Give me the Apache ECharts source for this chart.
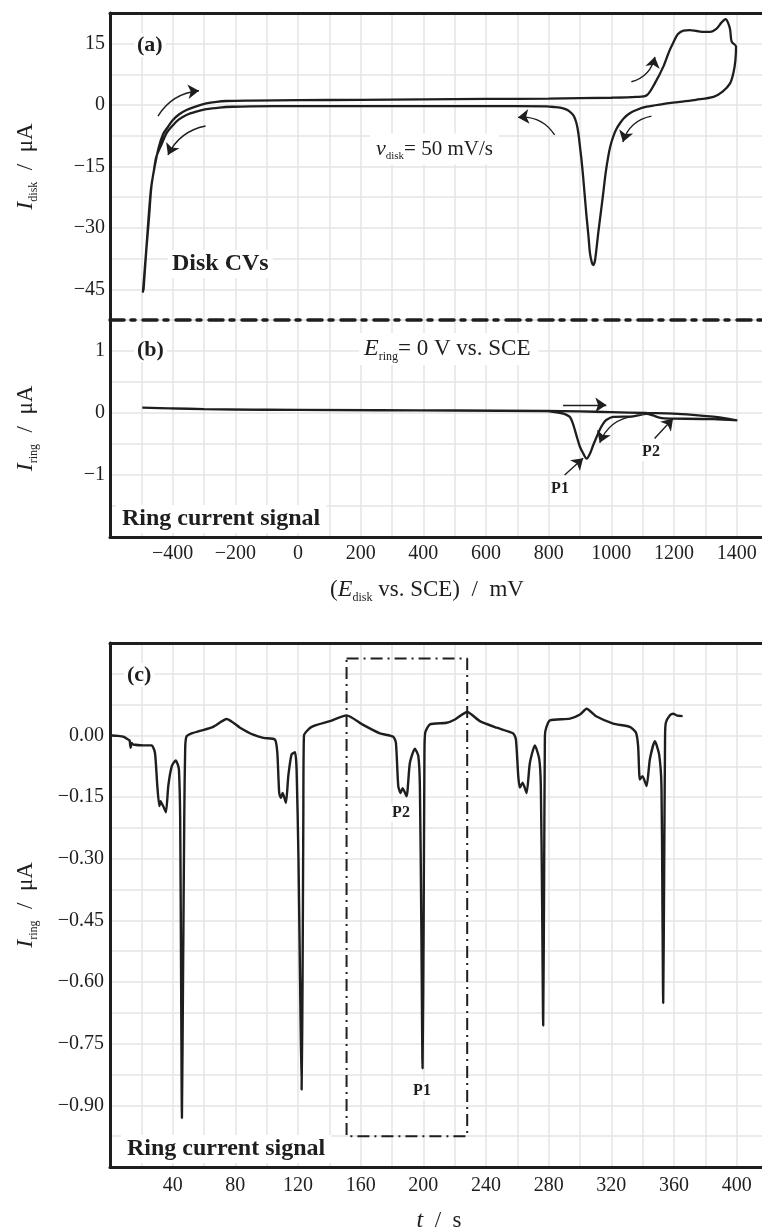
<!DOCTYPE html>
<html>
<head>
<meta charset="utf-8">
<script src="https://cdn.jsdelivr.net/npm/echarts@6/dist/echarts.min.js"></script>
<style>
html,body{margin:0;padding:0;background:#fff;}
#chart{width:762px;height:1232px;}
</style>
</head>
<body>
<div id="chart"></div>
<script>
// ---------- Panel (a): disk cyclic voltammogram ----------
const cvPotential = [-495,-484,-470,-461,-445,-430,-415,-400,-380,-356,-325,-293,-260,-229,-150,0,200,400,600,800,1000,1080,1113,1140,1166,1185,1198,1212,1230,1250,1272,1295,1315,1336,1352,1365,1372,1379,1384,1398,
  1396,1390,1379,1355,1326,1270,1219,1160,1113,1080,1059,1040,1027,1015,1006,997,990,982,974,966,958,952,948,945,942,938,932,927,921,915,910,905,900,895,889,881,873,860,846,820,793,600,400,200,0,-150,-208,-250,-293,-325,-356,-380,-399,-420,-435,-452,-460,-468,-476,-484,-493];
const cvCurrent = [-45.8,-35.0,-21.0,-16.5,-10.5,-7.0,-5.3,-3.7,-2.3,-1.2,-0.3,0.4,0.8,1.0,1.1,1.2,1.3,1.4,1.5,1.6,1.8,2.0,2.4,5.5,9.4,13.2,15.3,17.3,18.2,18.3,18.1,17.9,17.9,18.7,20.2,21.0,20.2,18.5,15.5,14.3,
  11.0,8.0,5.3,3.3,2.0,1.3,0.8,0.2,-0.4,-1.2,-2.0,-3.2,-4.5,-6.0,-7.7,-10.0,-12.6,-16.5,-21.6,-26.5,-31.4,-35.5,-37.9,-38.8,-39.1,-38.5,-36.3,-32.0,-27.3,-22.0,-17.5,-13.5,-10.2,-7.0,-4.5,-2.8,-2.0,-1.2,-0.8,-0.5,-0.3,-0.25,-0.25,-0.25,-0.25,-0.3,-0.4,-0.6,-1.0,-1.6,-2.4,-3.5,-4.9,-6.9,-9.5,-12.6,-16.0,-20.0,-28.0,-35.4,-45.2];

// ---------- Panel (b): ring current vs disk potential ----------
const ringPotential = [-497,-400,-300,-208,0,261,500,793,900,1000,1113,1198,1260,1325,1370,1402,
  1325,1198,1170,1150,1130,1113,1070,1006,985,974,963,953,942,932,921,910,900,892,884,876,868,857,846,814,793,500,0,-300,-497];
const ringCurrent = [0.087,0.075,0.063,0.055,0.05,0.044,0.04,0.032,0.025,0.015,0.0,-0.01,-0.03,-0.06,-0.09,-0.118,
  -0.1,-0.09,-0.088,-0.07,-0.035,-0.015,-0.053,-0.064,-0.11,-0.171,-0.27,-0.387,-0.52,-0.655,-0.736,-0.65,-0.548,-0.42,-0.279,-0.15,-0.064,-0.03,-0.01,0.02,0.03,0.04,0.05,0.063,0.087];

// ---------- Panel (c): ring current vs time ----------
const timeS = [1.1,5,8.5,11.7,12.5,13.2,13.8,14.9,21.3,26.6,28.7,30.2,31.5,32.3,33,34,35.7,37.2,39.4,41.9,43.2,44,44.8,45.4,45.9,46.6,47.4,48.0,48.9,52.1,57.4,65.9,74.5,83,91.4,97.9,105.3,106.8,108,109.1,110.2,112.3,113.8,115.9,118.1,119.1,120.3,121.5,122.3,122.9,123.4,123.8,128.7,140.4,151,161,172.3,180.8,182.5,184,185.5,186.8,189.3,191.4,194.6,196.8,197.8,198.7,199.5,200.2,200.7,201.2,204.2,214.9,220.2,228,236.1,246.8,257.4,259.1,260.6,261.6,263.4,265.9,268,271.2,274,275,275.8,276.5,277.1,277.6,278.5,280.8,293.6,300,304.2,310.6,321.2,331.8,335.7,337.1,338.2,339.9,342.5,344.6,347.8,350.5,352,352.6,353.1,353.7,354.3,354.8,357.4,359.5,361.6,365.5];
const ringSignal = [0.0,-0.001,-0.003,-0.01,-0.012,-0.03,-0.018,-0.022,-0.024,-0.024,-0.042,-0.123,-0.172,-0.16,-0.165,-0.172,-0.187,-0.123,-0.075,-0.061,-0.07,-0.083,-0.2,-0.6,-0.931,-0.6,-0.2,-0.03,-0.002,0.005,0.011,0.021,0.04,0.019,0.002,-0.006,-0.01,-0.042,-0.14,-0.152,-0.14,-0.164,-0.099,-0.046,-0.041,-0.083,-0.3,-0.65,-0.862,-0.6,-0.2,0.0,0.021,0.035,0.049,0.027,0.005,-0.003,-0.018,-0.123,-0.14,-0.128,-0.148,-0.067,-0.032,-0.05,-0.123,-0.45,-0.81,-0.45,-0.05,0.007,0.027,0.031,0.039,0.057,0.035,0.019,0.005,-0.01,-0.099,-0.127,-0.115,-0.14,-0.067,-0.024,-0.058,-0.123,-0.4,-0.706,-0.35,0.0,0.02,0.037,0.041,0.051,0.065,0.046,0.029,0.021,0.007,-0.026,-0.107,-0.099,-0.123,-0.058,-0.014,-0.046,-0.123,-0.4,-0.651,-0.35,0.0,0.031,0.049,0.053,0.049,0.047];

// dash-dot highlight box in panel (c)
const boxT = [151,228,228,151,151];
const boxI = [0.187,0.187,-0.975,-0.975,0.187];

// annotation arrows [x1,y1,x2,y2,curveness]
const arrowsA = [[-447,-2.7,-316,3.5,0.25],[-295,-5.1,-415,-12.2,-0.25],[819,-7.3,702,-3.0,-0.3],[1128,-2.7,1037,-9.0,-0.3],[1064,5.7,1139,11.8,-0.3]];
const arrowsB = [[846,0.13,984,0.13,0],[1075,-0.05,963,-0.48,-0.3],[851,-1.0,910,-0.73,0],[1138,-0.41,1197,-0.09,0]];

// tick labels
const potentialTicks = [-400,-200,0,200,400,600,800,1000,1200,1400];
const diskTicks = [-45,-30,-15,0,15];
const ringTicks = [-1,0,1];
const timeTicks = [40,80,120,160,200,240,280,320,360,400];
const signalTicks = [-0.90,-0.75,-0.60,-0.45,-0.30,-0.15,0.00];

const FONT = '"Liberation Serif", "Times New Roman", serif';
const INK = '#1e1e1e';
const GRIDC = '#e4e4e4';
const minus = s => String(s).replace('-', '\u2212');
function fmtFrom(list, dec) {
  return function (v) {
    for (const t of list) {
      if (Math.abs(v - t) < 1e-6) return minus(dec ? t.toFixed(dec) : String(t));
    }
    return '';
  };
}
const labelStyle = (fmt, margin) => ({ show: true, formatter: fmt, fontFamily: FONT, fontSize: 20, color: INK, margin: margin });
const split = { show: true, lineStyle: { color: GRIDC, width: 1.5 } };
const solidLine = { show: true, onZero: false, lineStyle: { color: INK, width: 3 } };
function richSet(size, subSize) {
  const lh = Math.round(size * 1.2);
  return {
    i: { fontFamily: FONT, fontStyle: 'italic', fontSize: size + 1, color: INK, lineHeight: lh },
    s: { fontFamily: FONT, fontSize: subSize, color: INK, lineHeight: Math.round(subSize * 1.05), verticalAlign: 'bottom' },
    t: { fontFamily: FONT, fontSize: size, color: INK, lineHeight: lh }
  };
}
const nameRich = richSet(23, 12);
const nameStyle = { fontFamily: FONT, fontSize: 23, color: INK, rich: nameRich };

const pairs = (xs, ys) => xs.map((x, i) => [x, ys[i]]);
const arrowData = arr => arr.map(a => ({ coords: [[a[0], a[1]], [a[2], a[3]]], lineStyle: { curveness: a[4] } }));

const chart = echarts.init(document.getElementById('chart'), null, { renderer: 'canvas' });
const option = {
  backgroundColor: '#fff',
  animation: false,
  grid: [
    { left: 110, right: -6, top: 13, height: 307, outerBoundsMode: 'none' },
    { left: 110, right: -6, top: 320, height: 217, outerBoundsMode: 'none' },
    { left: 110, right: -6, top: 643, height: 524, outerBoundsMode: 'none' }
  ],
  xAxis: [
    { gridIndex: 0, type: 'value', min: -600, max: 1500, interval: 100, position: 'bottom',
      axisLine: { show: true, onZero: false, lineStyle: { color: INK, width: 3.5, type: [14, 7, 4, 8] } },
      axisTick: { show: false }, axisLabel: { show: false }, splitLine: split },
    { gridIndex: 0, type: 'value', min: -600, max: 1500, interval: 100, position: 'top',
      axisLine: solidLine, axisTick: { show: false }, axisLabel: { show: false }, splitLine: { show: false } },
    { gridIndex: 1, type: 'value', min: -600, max: 1500, interval: 100, position: 'bottom',
      axisLine: solidLine, axisTick: { show: false }, axisLabel: labelStyle(fmtFrom(potentialTicks), 7), splitLine: split,
      name: '{t|(}{i|E}{s|disk}{t| vs. SCE)  /  mV}', nameLocation: 'middle', nameGap: 39,
      nameTextStyle: Object.assign({}, nameStyle, { padding: [0, 24, 0, 0] }) },
    { gridIndex: 2, type: 'value', min: 0, max: 420, interval: 20, position: 'bottom',
      axisLine: solidLine, axisTick: { show: false }, axisLabel: labelStyle(fmtFrom(timeTicks), 9), splitLine: split,
      name: '{i|t}{t|  /  s}', nameLocation: 'middle', nameGap: 40, nameTextStyle: nameStyle },
    { gridIndex: 2, type: 'value', min: 0, max: 420, interval: 20, position: 'top',
      axisLine: solidLine, axisTick: { show: false }, axisLabel: { show: false }, splitLine: { show: false } }
  ],
  yAxis: [
    { gridIndex: 0, type: 'value', min: -52.5, max: 22.5, interval: 7.5,
      axisLine: solidLine, axisTick: { show: false }, axisLabel: labelStyle(fmtFrom(diskTicks), 5), splitLine: split,
      name: '{i|I}{s|disk}{t|  /  μA}', nameLocation: 'middle', nameGap: 70, nameTextStyle: nameStyle },
    { gridIndex: 1, type: 'value', min: -2, max: 1.5, interval: 0.5,
      axisLine: solidLine, axisTick: { show: false }, axisLabel: labelStyle(fmtFrom(ringTicks), 5), splitLine: split,
      name: '{i|I}{s|ring}{t|  /  μA}', nameLocation: 'middle', nameGap: 70, nameTextStyle: nameStyle },
    { gridIndex: 2, type: 'value', min: -1.05, max: 0.225, interval: 0.075,
      axisLine: solidLine, axisTick: { show: false }, axisLabel: labelStyle(fmtFrom(signalTicks, 2), 6), splitLine: split,
      name: '{i|I}{s|ring}{t|  /  μA}', nameLocation: 'middle', nameGap: 70, nameTextStyle: nameStyle }
  ],
  series: [
    { type: 'line', xAxisIndex: 0, yAxisIndex: 0, data: pairs(cvPotential, cvCurrent), showSymbol: false, smooth: 0.3,
      lineStyle: { color: INK, width: 2.3 }, z: 5 },
    { type: 'line', xAxisIndex: 2, yAxisIndex: 1, data: pairs(ringPotential, ringCurrent), showSymbol: false, smooth: 0.3,
      lineStyle: { color: INK, width: 2.3 }, z: 5 },
    { type: 'line', xAxisIndex: 3, yAxisIndex: 2, data: pairs(timeS, ringSignal), showSymbol: false, smooth: 0.2,
      lineStyle: { color: INK, width: 2.4 }, z: 5 },
    { type: 'line', xAxisIndex: 3, yAxisIndex: 2, data: pairs(boxT, boxI), showSymbol: false,
      lineStyle: { color: INK, width: 2, type: [12, 5, 2, 5] }, z: 4 },
    { type: 'lines', coordinateSystem: 'cartesian2d', xAxisIndex: 0, yAxisIndex: 0, data: arrowData(arrowsA),
      symbol: ['none', 'arrow'], symbolSize: 11, lineStyle: { color: INK, width: 1.4, opacity: 1 }, silent: true, z: 6 },
    { type: 'lines', coordinateSystem: 'cartesian2d', xAxisIndex: 2, yAxisIndex: 1, data: arrowData(arrowsB),
      symbol: ['none', 'arrow'], symbolSize: 11, lineStyle: { color: INK, width: 1.4, opacity: 1 }, silent: true, z: 6 }
  ],
  graphic: [
    { type: 'text', x: 134, y: 45, z: 1, style: { text: '(a)', font: 'bold 22px ' + FONT, fill: INK, verticalAlign: 'middle', backgroundColor: '#fff', padding: [1, 3] } },
    { type: 'text', x: 168, y: 264, z: 1, style: { text: 'Disk CVs', font: 'bold 24px ' + FONT, fill: INK, verticalAlign: 'middle', backgroundColor: '#fff', padding: [2, 4] } },
    { type: 'text', x: 370, y: 149, z: 1, style: { text: '{i|ν}{s|disk}{t|= 50 mV/s}', fill: INK, verticalAlign: 'middle', backgroundColor: '#fff', padding: [3, 6], rich: richSet(21, 11) } },
    { type: 'text', x: 134, y: 350, z: 1, style: { text: '(b)', font: 'bold 22px ' + FONT, fill: INK, verticalAlign: 'middle', backgroundColor: '#fff', padding: [1, 3] } },
    { type: 'text', x: 359, y: 349, z: 1, style: { text: '{i|E}{s|ring}{t|= 0 V vs. SCE}', fill: INK, verticalAlign: 'middle', backgroundColor: '#fff', padding: [2, 8, 2, 5], rich: richSet(23, 12) } },
    { type: 'text', x: 116, y: 519, z: 1, style: { text: 'Ring current signal', font: 'bold 24px ' + FONT, fill: INK, verticalAlign: 'middle', backgroundColor: '#fff', padding: [2, 6] } },
    { type: 'text', x: 560, y: 489, z: 1, style: { text: 'P1', font: 'bold 16px ' + FONT, fill: INK, align: 'center', verticalAlign: 'middle' } },
    { type: 'text', x: 651, y: 452, z: 1, style: { text: 'P2', font: 'bold 16px ' + FONT, fill: INK, align: 'center', verticalAlign: 'middle', backgroundColor: '#fff', padding: [1, 2] } },
    { type: 'text', x: 124, y: 675, z: 1, style: { text: '(c)', font: 'bold 22px ' + FONT, fill: INK, verticalAlign: 'middle', backgroundColor: '#fff', padding: [1, 3] } },
    { type: 'text', x: 401, y: 813, z: 1, style: { text: 'P2', font: 'bold 16px ' + FONT, fill: INK, align: 'center', verticalAlign: 'middle', backgroundColor: '#fff', padding: [1, 2] } },
    { type: 'text', x: 422, y: 1091, z: 1, style: { text: 'P1', font: 'bold 16px ' + FONT, fill: INK, align: 'center', verticalAlign: 'middle', backgroundColor: '#fff', padding: [1, 2] } },
    { type: 'text', x: 121, y: 1149, z: 1, style: { text: 'Ring current signal', font: 'bold 24px ' + FONT, fill: INK, verticalAlign: 'middle', backgroundColor: '#fff', padding: [2, 6] } }
  ]
};
chart.setOption(option);
</script>
</body>
</html>
